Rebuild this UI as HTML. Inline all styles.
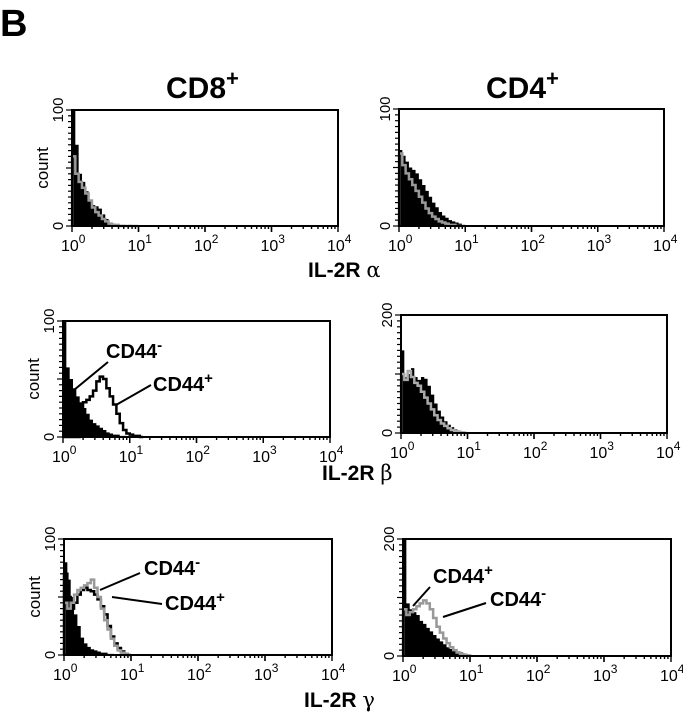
<!DOCTYPE html>
<html><head><meta charset="utf-8"><style>
body{margin:0;background:#fff;}
svg{display:block;font-family:"Liberation Sans",sans-serif;}
</style></head><body>
<svg id="fig" width="683" height="719" viewBox="0 0 683 719" xmlns="http://www.w3.org/2000/svg">
<text x="0" y="36" font-size="38" font-weight="bold">B</text>
<text x="166" y="98" font-size="30" font-weight="bold">CD8<tspan font-size="22" dy="-12">+</tspan></text>
<text x="486" y="98" font-size="30" font-weight="bold">CD4<tspan font-size="22" dy="-12">+</tspan></text>
<text x="308" y="277" font-size="21" font-weight="bold">IL-2R <tspan font-weight="normal" font-family="DejaVu Serif,serif">α</tspan></text>
<text x="322" y="480" font-size="21" font-weight="bold">IL-2R <tspan font-weight="normal" font-family="DejaVu Serif,serif">β</tspan></text>
<text x="304" y="707" font-size="21" font-weight="bold">IL-2R <tspan font-weight="normal" font-family="DejaVu Serif,serif">γ</tspan></text>
</svg>
<script>
// bins: log10 intensity step 0.05 from 0
const binStep = 0.05;
const xTickLabels = ["0","1","2","3","4"];
const a8neg = [100,70,45,38,30,22,18,17,15,10,6,3,2,1,1,1,0,1,0,0];
const a8pos = [60,45,38,33,28,22,16,12,9,6,4,2,1,1,0,0,0,0,0,0];
const a4neg = [65,60,55,50,48,45,40,35,30,25,20,16,12,9,7,5,4,3,2,1];
const a4pos = [62,52,45,40,35,30,25,20,15,11,8,6,4,3,2,1,1,0,0,0];
const b8neg = [100,60,50,42,35,30,25,20,15,12,10,8,6,4,3,2,2,1,1,0];
const b8pos = [0,0,0,0,0,25,30,32,35,40,48,52,50,42,35,28,20,12,6,3,2,1,1,0];
const b4neg = [140,95,100,110,95,90,95,92,80,65,50,38,28,20,14,10,6,4,2,1];
const b4pos = [100,90,105,95,85,80,70,60,50,40,30,22,16,12,8,5,3,2,1,0];
const g8neg = [80,65,50,35,25,15,10,7,5,4,3,2,2,1,1,0,0,0,0,0];
const g8pos = [45,40,45,52,56,58,60,62,65,58,50,40,30,22,14,8,4,2,1,0];
const g8blk = [70,50,40,45,52,56,58,56,55,52,48,42,35,25,16,10,6,3,1,0];
const g4neg = [200,90,80,75,70,60,55,48,42,36,30,25,20,15,12,10,8,6,4,2,1];
const g4pos = [80,70,75,80,85,90,95,90,80,65,50,40,30,22,15,10,6,3,2,1];

const svg = document.getElementById('fig');
const NS = 'http://www.w3.org/2000/svg';
function mk(tag, attrs, parent){const e=document.createElementNS(NS,tag);for(const k in attrs)e.setAttribute(k,attrs[k]);(parent||svg).appendChild(e);return e;}

const panels = [
 {id:'alpha-cd8',x0:72,x1:338,y0:110,y1:226,ymax:100,fill:a8neg,lines:[[a8pos,'#999']],count:true},
 {id:'alpha-cd4',x0:399,x1:664,y0:109,y1:226,ymax:100,fill:a4neg,lines:[[a4pos,'#999']]},
 {id:'beta-cd8',x0:63,x1:330,y0:321,y1:437,ymax:100,fill:b8neg,lines:[[b8pos,'#000']],count:true},
 {id:'beta-cd4',x0:401,x1:667,y0:315,y1:433,ymax:200,fill:b4neg,lines:[[b4pos,'#aaa']]},
 {id:'gamma-cd8',x0:64,x1:332,y0:539,y1:655,ymax:100,fill:g8neg,lines:[[g8blk,'#000'],[g8pos,'#999']],count:true},
 {id:'gamma-cd4',x0:403,x1:671,y0:539,y1:656,ymax:200,fill:g4neg,lines:[[g4pos,'#999']]}
];

panels.forEach(p=>{
 const g = mk('g',{});
 
 
 const xs = v => p.x0 + (v/4)*(p.x1-p.x0);
 const ys = v => p.y1 - (Math.min(v,p.ymax)/p.ymax)*(p.y1-p.y0);
 let d = 'M'+xs(0)+','+ys(0);
 p.fill.forEach((v,i)=>{d+=' L'+xs(i*binStep)+','+ys(v)+' L'+xs((i+1)*binStep)+','+ys(v);});
 d += ' L'+xs(p.fill.length*binStep)+','+ys(0)+' Z';
 const f = mk('path',{d:d,fill:'#000'},g);
 
 
 p.lines.forEach(([arr,col])=>{
  let dl = 'M'+xs(0)+','+ys(0);
  arr.forEach((v,i)=>{dl+=' L'+xs(i*binStep)+','+ys(v)+' L'+xs((i+1)*binStep)+','+ys(v);});
  dl += ' L'+xs(arr.length*binStep)+','+ys(0);
  const l = mk('path',{d:dl,fill:'none',stroke:col,'stroke-width':2.5},g);
  
  
 });
 const box = mk('rect',{x:p.x0,y:p.y0,width:p.x1-p.x0,height:p.y1-p.y0,fill:'none',stroke:'#000','stroke-width':2},g);
 
 
 for(let dec=0;dec<4;dec++){for(let m=1;m<=10;m++){const xv=dec+Math.log10(m);const len=(m===1||m===10)?6:3;
   mk('line',{x1:xs(xv),x2:xs(xv),y1:p.y1,y2:p.y1+len,stroke:'#000','stroke-width':1.4},g);}}
 xTickLabels.forEach((t,i)=>{
  const tx = mk('text',{x:xs(i)-11,y:p.y1+25,'font-size':16},g);
  
  
  tx.innerHTML = '10<tspan font-size="12" dy="-8">'+t+'</tspan>';
 });
 for(let k=0;k<=20;k++){const yy=p.y1-(k/20)*(p.y1-p.y0);mk('line',{x1:p.x0-(k%10===0?6:4),x2:p.x0,y1:yy,y2:yy,stroke:'#000','stroke-width':1.2},g);}
 [[0,'0'],[p.ymax,String(p.ymax)]].forEach(([v,t])=>{
  const yy=ys(v);
  const tx=mk('text',{x:0,y:0,'font-size':15,'text-anchor':'middle',transform:'translate('+(p.x0-9)+','+yy+') rotate(-90)'},g);
  
  
  tx.textContent=t;
 });
 if(p.count){
  const c=mk('text',{x:0,y:0,'font-size':17,'text-anchor':'middle',transform:'translate('+(p.x0-24)+','+((p.y0+p.y1)/2)+') rotate(-90)'},g);
  
  
  c.textContent='count';
 }
});

function annot(name,text,sup,tx,ty,lx1,ly1,lx2,ly2){
 const l=mk('line',{x1:lx1,y1:ly1,x2:lx2,y2:ly2,stroke:'#000','stroke-width':2});
 
 
 const t=mk('text',{x:tx,y:ty,'font-size':20,'font-weight':'bold'});
 
 
 t.innerHTML=text+'<tspan font-size="15" dy="-8">'+sup+'</tspan>';
}
annot('label-cd44neg-beta','CD44','-',106,358,108,362,74,390);
annot('label-cd44pos-beta','CD44','+',153,391,151,385,116,405);
annot('label-cd44neg-gamma','CD44','-',144,575,140,573,100,590);
annot('label-cd44pos-gamma','CD44','+',165,610,162,604,112,597);
annot('label-cd44pos-gamma-cd4','CD44','+',433,583,430,587,413,606);
annot('label-cd44neg-gamma-cd4','CD44','-',490,606,486,603,443,617);
</script>
</body></html>
